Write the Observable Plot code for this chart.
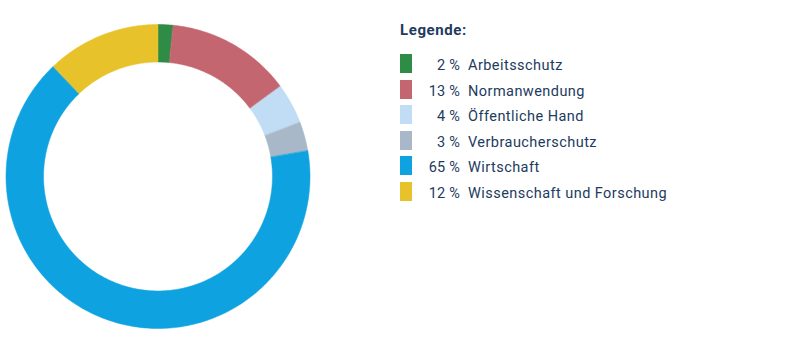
<!DOCTYPE html>
<html>
<head>
<meta charset="utf-8">
<script src="https://cdn.jsdelivr.net/npm/d3@7"></script>
<script src="https://cdn.jsdelivr.net/npm/@observablehq/plot@0.6"></script>
<style>
  html, body { margin: 0; padding: 0; background: #fff; }
  #wrap { position: relative; width: 801px; height: 351px; overflow: hidden; font-family: Roboto, "Noto Sans", sans-serif; color: #1d3b5e; }
  #legend { position: absolute; left: 400px; top: 0; }
  #legend .title { position: absolute; left: 0; top: 21px; font-weight: 700; font-size: 15px; white-space: nowrap; letter-spacing: 0.6px; }
  #legend .row { position: absolute; left: 0; height: 19px; white-space: nowrap; font-size: 14.5px; letter-spacing: 0.45px; }
  #legend .sw { position: absolute; left: 0; top: 0; width: 12px; height: 19px; }
  #legend .pct { position: absolute; width: 60px; left: 0; text-align: right; top: 3px; letter-spacing: 0.2px; }
  #legend .lab { position: absolute; left: 68px; top: 3px; }
</style>
</head>
<body>
<div id="wrap"><div id="chart"></div><div id="legend"></div></div>
<script>
const categories = ["Arbeitsschutz", "Normanwendung", "Öffentliche Hand", "Verbraucherschutz", "Wirtschaft", "Wissenschaft und Forschung"];
const shares = [1.6, 13.3, 4.3, 3.1, 65.6, 12.1];
const percentLabels = ["2 %", "13 %", "4 %", "3 %", "65 %", "12 %"];
const colors = ["#2f8c46", "#c4666f", "#c0ddf5", "#a8b8c8", "#0ea3e0", "#e8c22b"];
const legendTitle = "Legende:";

const innerRatio = 0.753;
const pie = d3.pie().sort(null).value(d => d.share)(categories.map((c, i) => ({category: c, share: shares[i]})));
const pts = [];
for (const s of pie) {
  const n = Math.max(8, Math.ceil((s.endAngle - s.startAngle) * 60));
  const outer = d3.range(n + 1).map(k => s.startAngle + (s.endAngle - s.startAngle) * k / n);
  for (const a of outer) pts.push({category: s.data.category, x: Math.sin(a), y: Math.cos(a)});
  for (const a of outer.slice().reverse()) pts.push({category: s.data.category, x: innerRatio * Math.sin(a), y: innerRatio * Math.cos(a)});
}

const chart = Plot.plot({
  width: 801,
  height: 351,
  margin: 0,
  x: {domain: [-1, 1], range: [5.5, 309.5], axis: null},
  y: {domain: [-1, 1], range: [328, 24], axis: null},
  color: {domain: categories, range: colors},
  marks: [
    Plot.line(pts, {x: "x", y: "y", z: "category", fill: "category", stroke: "category", strokeWidth: 0.5, curve: "linear-closed"})
  ]
});
document.getElementById("chart").appendChild(chart);

const legend = document.getElementById("legend");
const t = document.createElement("div");
t.className = "title"; t.textContent = legendTitle; legend.appendChild(t);
categories.forEach((c, i) => {
  const row = document.createElement("div");
  row.className = "row";
  row.style.top = (54 + i * 25.5) + "px";
  row.innerHTML = `<div class="sw" style="background:${colors[i]}"></div><div class="pct"></div><div class="lab"></div>`;
  row.querySelector(".pct").textContent = percentLabels[i];
  row.querySelector(".lab").textContent = c;
  legend.appendChild(row);
});
</script>
</body>
</html>
